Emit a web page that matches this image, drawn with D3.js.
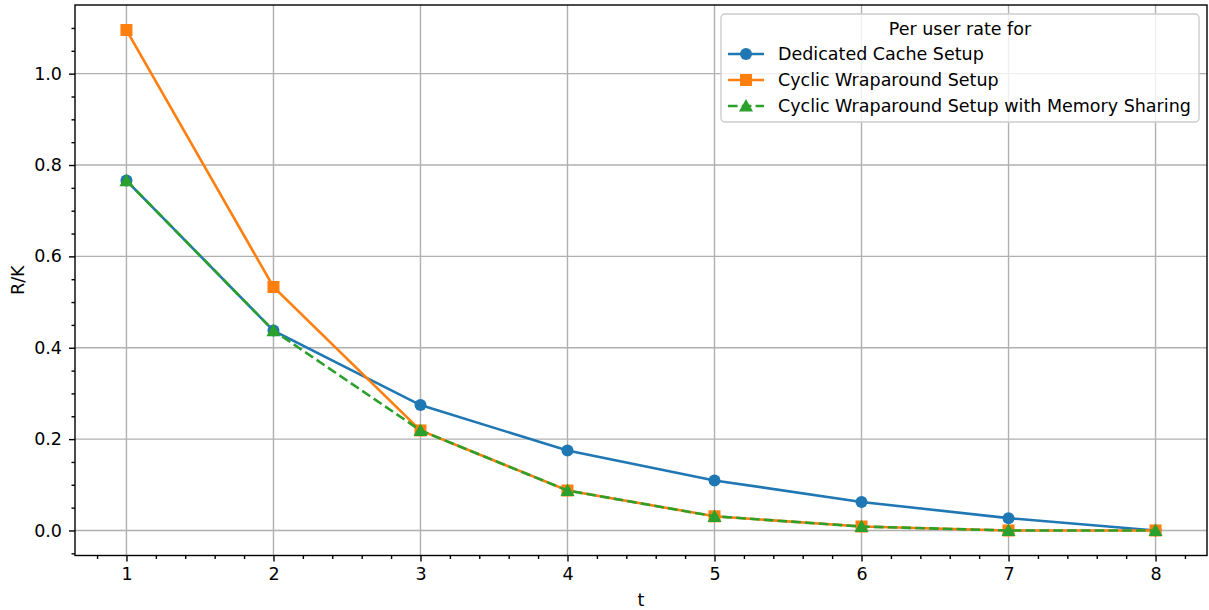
<!DOCTYPE html>
<html>
<head>
<meta charset="utf-8">
<script src="https://cdn.jsdelivr.net/npm/d3@7"></script>
<style>
  body { margin: 0; background: #fff; }
  text { font-family: "DejaVu Sans", sans-serif; fill: #000; }
</style>
</head>
<body>
<div id="chart"></div>
<script>
// data
var tValues = [1, 2, 3, 4, 5, 6, 7, 8];
var dedicated = [0.766, 0.4375, 0.2745, 0.175, 0.1095, 0.0625, 0.027, 0.0];
var cyclic = [1.0955, 0.533, 0.219, 0.0875, 0.031, 0.0087, 0.0, 0.0];
var cyclicShared = [0.766, 0.4375, 0.219, 0.0875, 0.031, 0.0087, 0.0, 0.0];

var xTicks = [1, 2, 3, 4, 5, 6, 7, 8];
var yTicks = [0.0, 0.2, 0.4, 0.6, 0.8, 1.0];

var legendTitle = "Per user rate for";
var series = [
  {name: "Dedicated Cache Setup", values: dedicated, color: "#1f77b4", marker: "circle", dash: null},
  {name: "Cyclic Wraparound Setup", values: cyclic, color: "#ff7f0e", marker: "square", dash: null},
  {name: "Cyclic Wraparound Setup with Memory Sharing", values: cyclicShared, color: "#2ca02c", marker: "triangle", dash: "9.6,4.2"}
];

var fontSize = "17.5px";
var svgWidth = 1209;
var svgHeight = 610;
var margin = {top: 5, right: 2, bottom: 54.5, left: 75};
var width = svgWidth - margin.left - margin.right;
var height = svgHeight - margin.top - margin.bottom;

var svg = d3.select("#chart")
  .append("svg")
  .attr("width", svgWidth)
  .attr("height", svgHeight);

var chartGroup = svg.append("g")
  .attr("transform", `translate(${margin.left}, ${margin.top})`);

// matplotlib style 5% padding
var xMin = 1, xMax = 8;
var xPad = (xMax - xMin) * 0.05;
var xScale = d3.scaleLinear()
  .domain([xMin - xPad, xMax + xPad])
  .range([0, width]);

var yMax = d3.max(cyclic), yMin = 0;
var yPad = (yMax - yMin) * 0.05;
var yScale = d3.scaleLinear()
  .domain([yMin - yPad, yMax + yPad])
  .range([height, 0]);

// grid
chartGroup.append("g")
  .selectAll("line")
  .data(xTicks)
  .enter()
  .append("line")
  .attr("x1", d => xScale(d))
  .attr("x2", d => xScale(d))
  .attr("y1", 0)
  .attr("y2", height)
  .attr("stroke", "#b0b0b0")
  .attr("stroke-width", 1.4);

chartGroup.append("g")
  .selectAll("line")
  .data(yTicks)
  .enter()
  .append("line")
  .attr("x1", 0)
  .attr("x2", width)
  .attr("y1", d => yScale(d))
  .attr("y2", d => yScale(d))
  .attr("stroke", "#b0b0b0")
  .attr("stroke-width", 1.4);

// axes
var xAxis = d3.axisBottom(xScale)
  .tickValues(xTicks)
  .tickFormat(d3.format("d"))
  .tickSize(6)
  .tickPadding(6);
var yAxis = d3.axisLeft(yScale)
  .tickValues(yTicks)
  .tickFormat(d3.format(".1f"))
  .tickSize(6)
  .tickPadding(7);

var xMinor = d3.range(0.8, 8.4, 0.2).filter(v => Math.abs(v - Math.round(v)) > 1e-6);
var yMinor = d3.range(-0.05, 1.15, 0.05).filter(v => Math.abs(v * 5 - Math.round(v * 5)) > 1e-6);

var xAxisG = chartGroup.append("g")
  .attr("transform", `translate(0, ${height})`)
  .call(xAxis);
var yAxisG = chartGroup.append("g")
  .call(yAxis);

chartGroup.append("g")
  .attr("transform", `translate(0, ${height})`)
  .call(d3.axisBottom(xScale).tickValues(xMinor).tickSize(3.5).tickFormat(""))
  .call(g => g.select(".domain").remove());
chartGroup.append("g")
  .call(d3.axisLeft(yScale).tickValues(yMinor).tickSize(3.5).tickFormat(""))
  .call(g => g.select(".domain").remove());

chartGroup.selectAll(".tick line").attr("stroke", "#000").attr("stroke-width", 1.4);
[xAxisG, yAxisG].forEach(function(g) {
  g.select(".domain").remove();
  g.selectAll("text").attr("font-size", fontSize).attr("font-family", "DejaVu Sans");
});

// frame
chartGroup.append("rect")
  .attr("x", 0)
  .attr("y", 0)
  .attr("width", width)
  .attr("height", height)
  .attr("fill", "none")
  .attr("stroke", "#000")
  .attr("stroke-width", 1.4);

// axis labels
svg.append("text")
  .attr("x", margin.left + xScale(4.5))
  .attr("y", 606)
  .attr("text-anchor", "middle")
  .attr("font-size", fontSize)
  .text("t");

svg.append("text")
  .attr("transform", `translate(24, ${margin.top + height / 2}) rotate(-90)`)
  .attr("text-anchor", "middle")
  .attr("font-size", fontSize)
  .text("R/K");

// markers
function drawMarker(g, type, color, x, y) {
  if (type === "circle") {
    g.append("circle").attr("cx", x).attr("cy", y).attr("r", 6).attr("fill", color);
  } else if (type === "square") {
    g.append("rect").attr("x", x - 6).attr("y", y - 6).attr("width", 12).attr("height", 12).attr("fill", color);
  } else {
    var s = 7;
    g.append("path")
      .attr("d", `M${x},${y - s} L${x + s},${y + s * 0.8} L${x - s},${y + s * 0.8} Z`)
      .attr("fill", color);
  }
}

var line = d3.line()
  .x(d => xScale(d.t))
  .y(d => yScale(d.v));

series.forEach(function(s) {
  var pts = tValues.map((t, i) => ({t: t, v: s.values[i]}));
  var g = chartGroup.append("g");
  g.append("path")
    .datum(pts)
    .attr("d", line)
    .attr("fill", "none")
    .attr("stroke", s.color)
    .attr("stroke-width", 2.6)
    .attr("stroke-dasharray", s.dash);
  pts.forEach(p => drawMarker(g, s.marker, s.color, xScale(p.t), yScale(p.v)));
});

// legend
var legend = svg.append("g").attr("transform", "translate(721, 14)");
legend.append("rect")
  .attr("x", 0)
  .attr("y", 0)
  .attr("width", 478)
  .attr("height", 108)
  .attr("rx", 4)
  .attr("fill", "#fff")
  .attr("fill-opacity", 0.8)
  .attr("stroke", "#cccccc")
  .attr("stroke-width", 1.4);

legend.append("text")
  .attr("x", 239)
  .attr("y", 21)
  .attr("text-anchor", "middle")
  .attr("font-size", fontSize)
  .text(legendTitle);

series.forEach(function(s, i) {
  var yy = 40 + i * 26;
  legend.append("line")
    .attr("x1", 7)
    .attr("x2", 43)
    .attr("y1", yy)
    .attr("y2", yy)
    .attr("stroke", s.color)
    .attr("stroke-width", 2.6)
    .attr("stroke-dasharray", s.dash);
  drawMarker(legend, s.marker, s.color, 25, yy);
  legend.append("text")
    .attr("x", 57)
    .attr("y", yy + 6)
    .attr("font-size", fontSize)
    .text(s.name);
});
</script>
</body>
</html>
